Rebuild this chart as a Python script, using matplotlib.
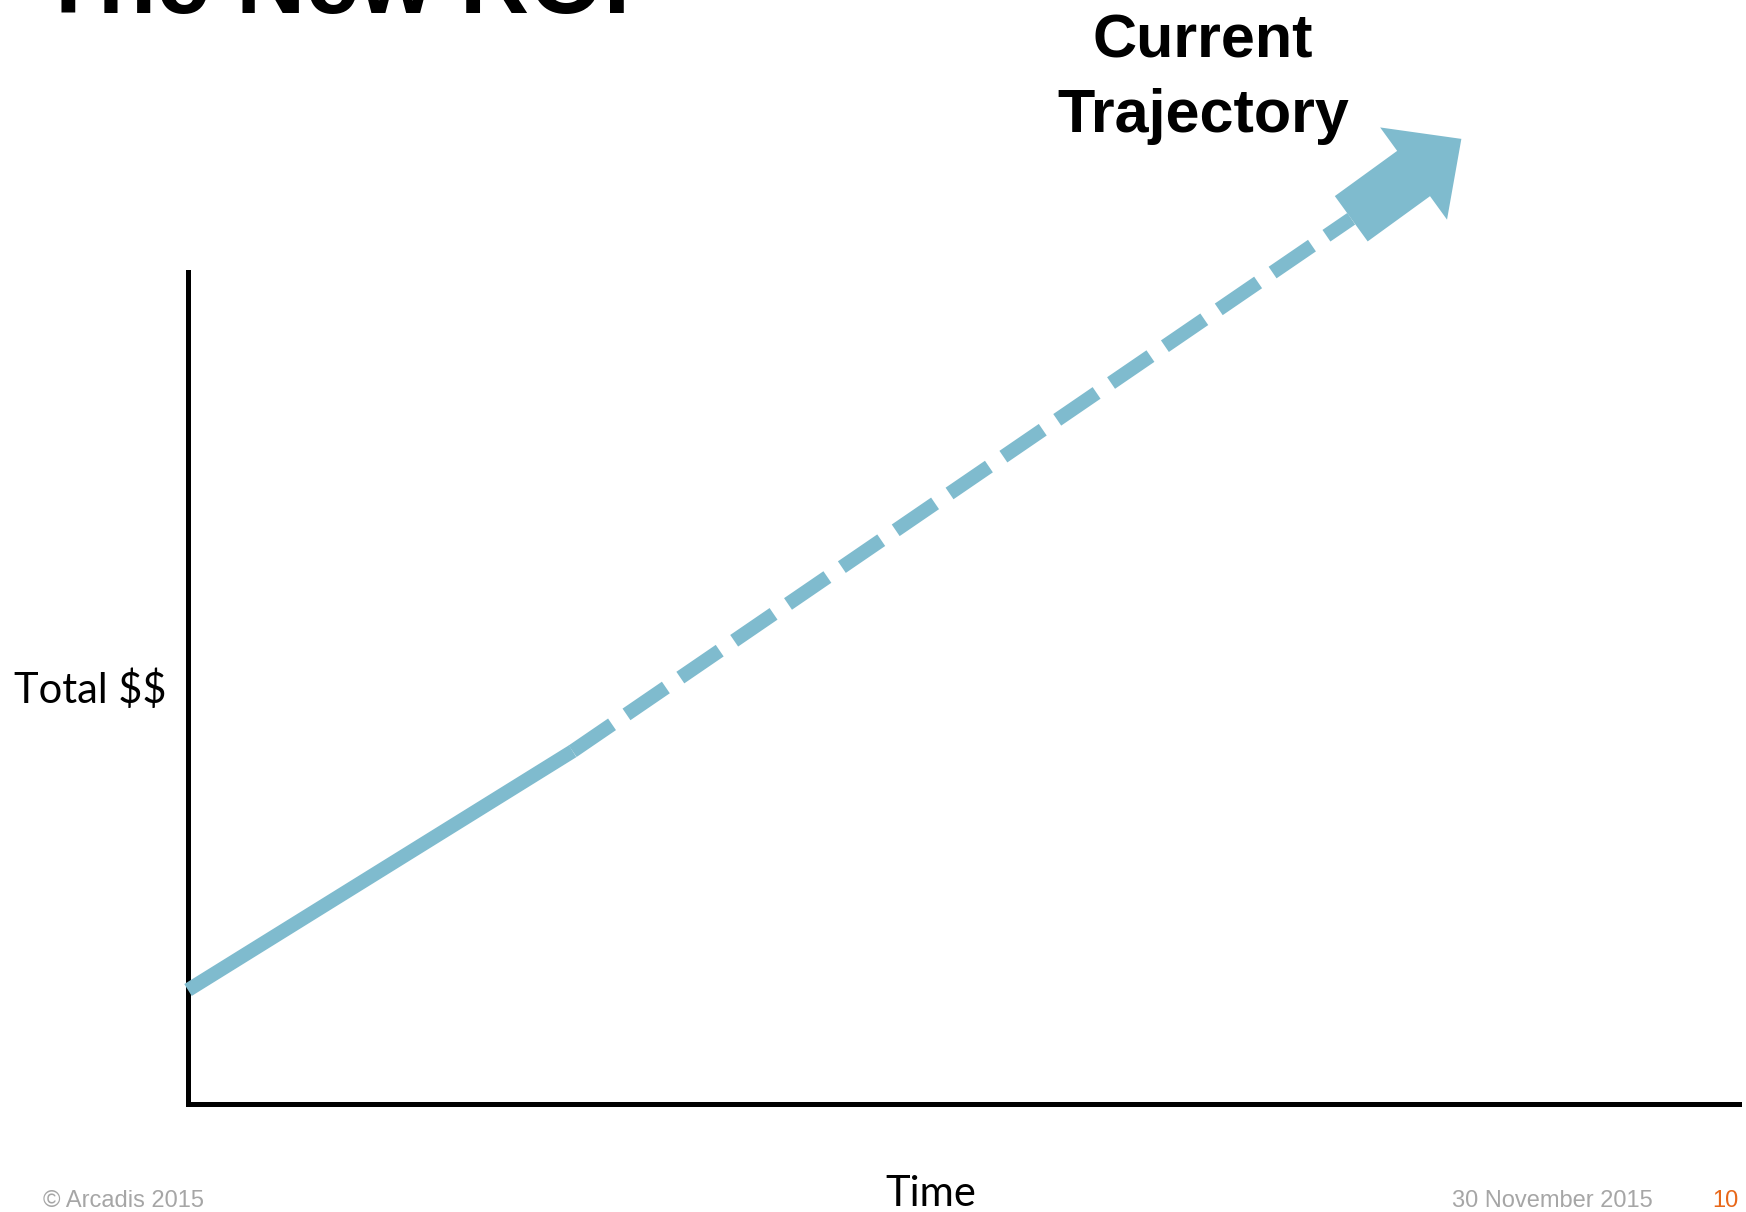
import matplotlib
matplotlib.use("Agg")
import matplotlib.pyplot as plt

# ---- data (arbitrary units: Time 0..10, Total $$ 0..10) ----
solid_time = [0.0, 2.48]
solid_total = [1.37, 4.24]
dashed_time = [2.48, 7.50]
dashed_total = [4.24, 10.64]
arrow_tail_time, arrow_tail_total = 7.50, 10.64
arrow_tip_time, arrow_tip_total = 8.21, 11.60

title_text = "The New ROI"
trajectory_lines = ["Current", "Trajectory"]
y_label = "Total $$"
x_label = "Time"
footer_left = "\u00a9 Arcadis 2015"
footer_date = "30 November 2015"
footer_page = "10"

LINE_COLOR = "#7fbbce"
W, H = 1746, 1212
DPI = 100

fig = plt.figure(figsize=(W / DPI, H / DPI), dpi=DPI)
fig.patch.set_facecolor("white")

ax = fig.add_axes([188 / W, (H - 1104) / H, (1739 - 188) / W, (1104 - 272) / H])
ax.set_xlim(0, 10)
ax.set_ylim(0, 10)
ax.set_xticks([])
ax.set_yticks([])
for s in ["top", "right"]:
    ax.spines[s].set_visible(False)
for s in ["left", "bottom"]:
    ax.spines[s].set_linewidth(3.6)
    ax.spines[s].set_color("black")
ax.patch.set_alpha(0)

lw = 10.1
ax.plot(solid_time, solid_total, color=LINE_COLOR, lw=lw,
        solid_capstyle="butt", clip_on=False, zorder=3)
ax.plot(dashed_time, dashed_total, color=LINE_COLOR, lw=lw,
        linestyle=(0, (3.4, 1.25)), dash_capstyle="butt", clip_on=False, zorder=3)
ax.annotate("", xy=(arrow_tip_time, arrow_tip_total),
            xytext=(arrow_tail_time, arrow_tail_total),
            xycoords="data", textcoords="data", annotation_clip=False,
            arrowprops=dict(arrowstyle="simple,head_length=0.425,head_width=0.82,tail_width=0.403",
                            mutation_scale=100, color=LINE_COLOR, lw=0,
                            shrinkA=0, shrinkB=0), zorder=4)

def fx(px):
    return px / W

def fy(py):
    return 1 - py / H

# title (cut off at top, as in the reference)
fig.text(fx(39), fy(13), title_text, fontsize=69, fontweight="bold",
         family="Liberation Sans", ha="left", va="baseline", color="black")

# Current Trajectory label
fig.text(fx(1203), fy(57), trajectory_lines[0], fontsize=44, fontweight="bold",
         family="Liberation Sans", ha="center", va="baseline", color="black")
fig.text(fx(1203), fy(132), trajectory_lines[1], fontsize=44, fontweight="bold",
         family="Liberation Sans", ha="center", va="baseline", color="black")

# axis labels
fig.text(fx(166), fy(703), y_label, fontsize=30, family="Lato",
         ha="right", va="baseline", color="black", parse_math=False)
fig.text(fx(931), fy(1206), x_label, fontsize=30, family="Lato",
         ha="center", va="baseline", color="black")

# footer
fig.text(fx(43), fy(1207), footer_left, fontsize=17, family="Liberation Sans",
         ha="left", va="baseline", color="#a6a6a6")
fig.text(fx(1653), fy(1207), footer_date, fontsize=17, family="Liberation Sans",
         ha="right", va="baseline", color="#a6a6a6")
fig.text(fx(1738), fy(1207), footer_page, fontsize=17, family="Liberation Sans",
         ha="right", va="baseline", color="#e8681a")

fig.savefig("out.png", dpi=DPI, facecolor="white")
